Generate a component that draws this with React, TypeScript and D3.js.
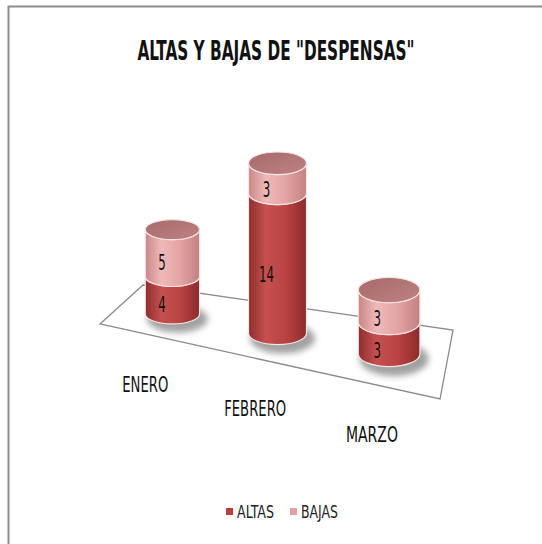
import React, { useLayoutEffect, useRef, useState } from "react";
import * as d3 from "d3";

const months = ["ENERO", "FEBRERO", "MARZO"];
const altas = [4, 14, 3];
const bajas = [5, 3, 3];
const seriesNames = ["ALTAS", "BAJAS"];
const title = 'ALTAS Y BAJAS DE "DESPENSAS"';

const W = 542;
const H = 544;
const FONT = "'DejaVu Sans Condensed', 'Liberation Sans Narrow', Arial, sans-serif";

// floor quad in perspective (front-left, back-left, back-right, front-right)
const FL = [100, 324];
const BL = [143, 285];
const BR = [453, 330];
const FR = [440, 399];

function project(u: number, v: number): [number, number] {
  // slight perspective warp along the category axis
  const w = u - 0.02 * Math.sin(Math.PI * u);
  const fx = FL[0] + (FR[0] - FL[0]) * w;
  const fy = FL[1] + (FR[1] - FL[1]) * w;
  const bx = BL[0] + (BR[0] - BL[0]) * w;
  const by = BL[1] + (BR[1] - BL[1]) * w;
  return [fx + (bx - fx) * v, fy + (by - fy) * v];
}

const colors: Record<string, any> = {
  ALTAS: ["#8e2e2e", "#c65050", "#b94242", "#8a2c2c"],
  BAJAS: ["#c88686", "#f0b9b9", "#e2a3a3", "#c48080"],
  legendAltas: "#b93e3e",
  legendBajas: "#e3a0a0",
};

function segPath(cx: number, rx: number, ry: number, yb: number, yt: number) {
  return `M${cx - rx},${yt} L${cx - rx},${yb} A${rx},${ry} 0 0 0 ${cx + rx},${yb} L${cx + rx},${yt} A${rx},${ry} 0 0 1 ${cx - rx},${yt} Z`;
}

// text squeezed horizontally to a given width (condensed look)
function FitText(props: {
  x: number;
  y: number;
  width: number;
  size: number;
  anchor?: "start" | "middle";
  bold?: boolean;
  fill?: string;
  children: string;
}) {
  const ref = useRef<SVGTextElement>(null);
  const [sx, setSx] = useState(0.8);
  useLayoutEffect(() => {
    if (ref.current) {
      const len = ref.current.getComputedTextLength();
      if (len > 0) setSx(props.width / len);
    }
  }, [props.width, props.children]);
  return (
    <text
      ref={ref}
      transform={`translate(${props.x},${props.y}) scale(${sx},1)`}
      textAnchor={props.anchor || "middle"}
      fontFamily={FONT}
      fontWeight={props.bold ? "bold" : "normal"}
      fontSize={props.size}
      fill={props.fill || "#111"}
    >
      {props.children}
    </text>
  );
}

export default function App() {
  const u = d3.scalePoint<string>().domain(months).range([0, 1]).padding(0.5);
  const depth = d3.scaleLinear().domain([0, 1]).range([0.905, 1.095]);
  const unit = d3.scaleLinear().domain([0, 1]).range([0, 10]);
  const legendX = d3.scalePoint<string>().domain(seriesNames).range([226, 290]);
  const labelWidths: Record<string, number> = { ENERO: 46, FEBRERO: 62, MARZO: 52 };

  const floorPts = [project(0, 0), project(0, 1), project(1, 1), project(1, 0)];

  return (
    <svg
      width={W}
      height={H}
      style={{ position: "absolute", left: 0, top: 0, background: "#fff" }}
    >
      <defs>
        {seriesNames.map((s) => (
          <linearGradient key={s} id={`g-${s}`} x1="0" x2="1" y1="0" y2="0">
            <stop offset="0%" stopColor={colors[s][0]} />
            <stop offset="30%" stopColor={colors[s][1]} />
            <stop offset="65%" stopColor={colors[s][2]} />
            <stop offset="100%" stopColor={colors[s][3]} />
          </linearGradient>
        ))}
        <linearGradient id="g-top" x1="0" x2="1" y1="0" y2="1">
          <stop offset="0%" stopColor="#a86a6a" />
          <stop offset="100%" stopColor="#bd8282" />
        </linearGradient>
        <filter id="blur" x="-50%" y="-50%" width="200%" height="200%">
          <feGaussianBlur stdDeviation="3" />
        </filter>
      </defs>

      <rect x={8.5} y={6.5} width={600} height={600} fill="none" stroke="#8c8c8c" strokeWidth={2} />

      <FitText x={276} y={60} width={277} size={27} bold>
        {title}
      </FitText>

      <polygon
        points={floorPts.map((p) => p.join(",")).join(" ")}
        fill="#fff"
        stroke="#8a8a8a"
        strokeWidth={1.3}
      />

      {months.map((m, i) => {
        const uu = u(m) as number;
        const k = depth(uu);
        const [cx, by] = project(uu, 0.5);
        const rx = 29 * k;
        const ry = rx * (0.36 + 0.06 * uu);
        const yA = by - unit(altas[i]) * k;
        const yB = yA - unit(bajas[i]) * k;
        const segs = [
          { s: "ALTAS", yb: by, yt: yA, v: altas[i] },
          { s: "BAJAS", yb: yA, yt: yB, v: bajas[i] },
        ];
        return (
          <g key={m}>
            <ellipse
              cx={cx + 5}
              cy={by + 5}
              rx={rx * 1.12}
              ry={ry * 1.35}
              fill="#6e6e6e"
              opacity={0.65}
              filter="url(#blur)"
            />
            {segs.map((sg) => (
              <path
                key={sg.s}
                d={segPath(cx, rx, ry, sg.yb, sg.yt)}
                fill={`url(#g-${sg.s})`}
                stroke="#f4e4e4"
                strokeWidth={1.2}
              />
            ))}
            <ellipse
              cx={cx}
              cy={yB}
              rx={rx}
              ry={ry}
              fill="url(#g-top)"
              stroke="#f4e4e4"
              strokeWidth={1.2}
            />
            {segs.map((sg) => (
              <FitText
                key={`t-${sg.s}`}
                x={cx - rx * 0.38}
                y={(sg.yb + sg.yt) / 2 + ry + 7}
                width={String(sg.v).length * 7.5}
                size={21}
              >
                {String(sg.v)}
              </FitText>
            ))}
          </g>
        );
      })}

      {months.map((m) => {
        const [fx, fy] = project(u(m) as number, 0);
        return (
          <FitText key={`c-${m}`} x={fx - 8} y={fy + 56} width={labelWidths[m]} size={22}>
            {m}
          </FitText>
        );
      })}

      {seriesNames.map((s) => {
        const lx = legendX(s) as number;
        return (
          <g key={`l-${s}`}>
            <rect
              x={lx}
              y={508}
              width={7}
              height={7}
              fill={s === "ALTAS" ? colors.legendAltas : colors.legendBajas}
            />
            <FitText x={lx + 11} y={518} width={37} size={17} anchor="start" fill="#222">
              {s}
            </FitText>
          </g>
        );
      })}
    </svg>
  );
}
